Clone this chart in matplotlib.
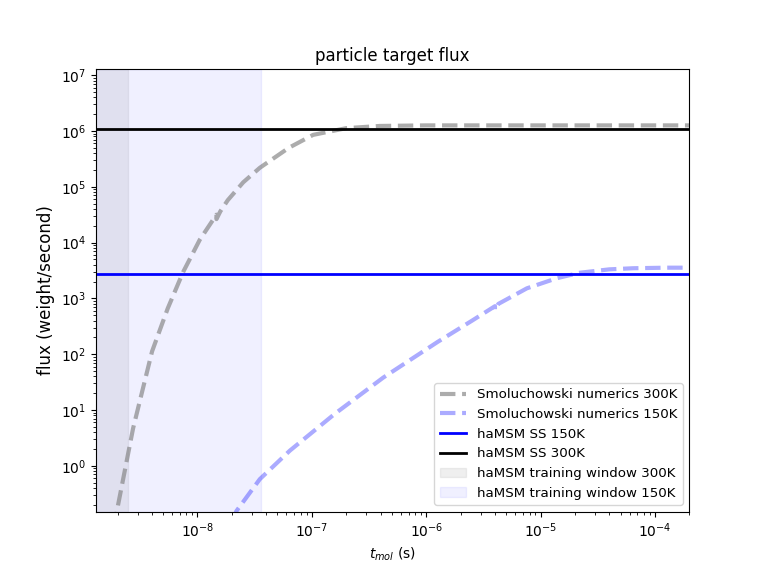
import numpy as np
import matplotlib
matplotlib.use('Agg')
import matplotlib.pyplot as plt

# Smoluchowski numerics (log10 of time, log10 of flux)
log_t_300 = [-8.73, -8.695, -8.563, -8.397, -8.26, -8.126, -7.98, -7.834, -7.834,
             -7.80, -7.735, -7.60, -7.455, -7.20, -6.989, -6.70, -6.405, -6.0,
             -5.5, -5.0, -4.5, -4.0, -3.65]
log_f_300 = [-1.10, -0.71, 0.67, 2.05, 2.82, 3.47, 4.05, 4.50, 4.42,
             4.56, 4.76, 5.08, 5.34, 5.70, 5.93, 6.05, 6.09, 6.10,
             6.10, 6.10, 6.10, 6.10, 6.10]

log_t_150 = [-7.70, -7.659, -7.455, -7.193, -6.80, -6.376, -5.90, -5.60,
             -5.399, -5.399, -5.37, -5.12, -4.86, -4.655, -4.40, -4.19,
             -3.9, -3.65]
log_f_150 = [-1.00, -0.81, -0.24, 0.27, 0.93, 1.58, 2.22, 2.60,
             2.86, 2.79, 2.90, 3.18, 3.36, 3.46, 3.52, 3.54,
             3.55, 3.55]

# haMSM steady state fluxes
ss_150 = 2.7e3
ss_300 = 1.1e6

# haMSM training windows (s)
window_300 = (1.0e-9, 2.45e-9)
window_150 = (1.0e-9, 3.6e-8)

t_300 = 10 ** np.array(log_t_300)
f_300 = 10 ** np.array(log_f_300)
t_150 = 10 ** np.array(log_t_150)
f_150 = 10 ** np.array(log_f_150)

fig, ax = plt.subplots(figsize=(7.66, 5.75), dpi=100)

ax.plot(t_300, f_300, '--', color='gray', alpha=0.65, linewidth=3,
        label='Smoluchowski numerics 300K')
ax.plot(t_150, f_150, '--', color='blue', alpha=0.33, linewidth=3,
        label='Smoluchowski numerics 150K')
ax.axhline(ss_150, color='blue', linewidth=2, label='haMSM SS 150K')
ax.axhline(ss_300, color='black', linewidth=2, label='haMSM SS 300K')
ax.axvspan(*window_300, color='gray', alpha=0.12,
           label='haMSM training window 300K')
ax.axvspan(*window_150, color='blue', alpha=0.06,
           label='haMSM training window 150K')

ax.set_xscale('log')
ax.set_yscale('log')
ax.set_xlim(1.29e-9, 2.0e-4)
ax.set_ylim(0.15, 1.29e7)

ax.set_title('particle target flux')
ax.set_xlabel(r'$t_{mol}$ (s)')
ax.set_ylabel('flux (weight/second)', fontsize=12)
ax.legend(loc='lower right', fontsize=9.6)

plt.savefig('out.png')
